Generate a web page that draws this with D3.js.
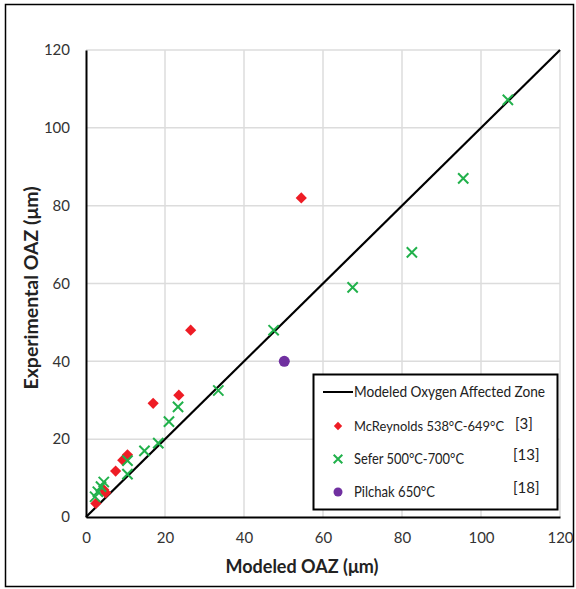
<!DOCTYPE html>
<html><head><meta charset="utf-8">
<script src="https://cdn.jsdelivr.net/npm/d3@7"></script>
<style>
html,body{margin:0;padding:0;background:#fff;}
text{font-family:Lato,"Open Sans",sans-serif;}
</style></head>
<body>
<svg id="chart" width="576" height="589"></svg>
<script>
const xTicks = [0, 20, 40, 60, 80, 100, 120];
const yTicks = [0, 20, 40, 60, 80, 100, 120];
const modelLine = [[0, 0], [120, 120]];
const mcReynolds = [[2.5,3.5],[4.5,7],[5,6.2],[7.5,11.8],[9.3,14.6],[10.5,16],[17,29.2],[23.5,31.3],[26.5,48],[54.5,82]];
const sefer = [[2.3,5.2],[3,6.5],[3.8,7.8],[4.5,9],[10.5,11],[10.5,14.5],[14.8,17],[18.3,19],[21,24.5],[23.3,28.3],[33.5,32.5],[47.5,48],[67.5,59],[82.5,68],[95.5,87],[106.8,107.2]];
const pilchak = [[50.2,40]];
const legendLabels = ["Modeled Oxygen Affected Zone","McReynolds 538°C-649°C","Sefer 500°C-700°C","Pilchak 650°C"];
const legendRefs = ["","[3]","[13]","[18]"];

const svg = d3.select("#chart");
const red = "#ee1c25", green = "#21b14b", purple = "#7030a0";

// outer frame
svg.append("rect").attr("x",5.5).attr("y",4.5).attr("width",568).attr("height",582)
  .attr("fill","none").attr("stroke","#000").attr("stroke-width",1.5);

const x = d3.scaleLinear().domain([0,120]).range([86,560]);
const y = d3.scaleLinear().domain([0,120]).range([517,50]);

// grid
svg.append("g").selectAll("line.v").data(xTicks.slice(1)).join("line")
  .attr("x1",d=>x(d)).attr("x2",d=>x(d)).attr("y1",y(0)).attr("y2",y(120))
  .attr("stroke","#dcdcdc").attr("stroke-width",1.5);
svg.append("g").selectAll("line.h").data(yTicks.slice(1)).join("line")
  .attr("x1",x(0)).attr("x2",x(120)).attr("y1",d=>y(d)).attr("y2",d=>y(d))
  .attr("stroke","#dcdcdc").attr("stroke-width",1.5);

// axes
const xAxis = svg.append("g").attr("transform",`translate(0,${y(0)})`)
  .call(d3.axisBottom(x).tickValues(xTicks).tickSize(0).tickPadding(15));
const yAxis = svg.append("g").attr("transform",`translate(${x(0)},0)`)
  .call(d3.axisLeft(y).tickValues(yTicks).tickSize(0).tickPadding(16));
[xAxis,yAxis].forEach(g=>{
  g.select(".domain").attr("stroke","#000").attr("stroke-width",2);
  g.selectAll("text").attr("font-size",15).attr("fill","#333").attr("font-family","Lato,'Open Sans',sans-serif");
});

// axis titles
svg.append("text").attr("x",302).attr("y",573).attr("text-anchor","middle")
  .attr("font-size",18).attr("font-weight","bold").attr("fill","#222").text("Modeled OAZ (μm)");
svg.append("text").attr("transform",`translate(38,288) rotate(-90)`).attr("text-anchor","middle")
  .attr("font-size",18).attr("font-weight","bold").attr("fill","#222")
  .attr("textLength",203).attr("lengthAdjust","spacingAndGlyphs").text("Experimental OAZ (μm)");

// model line
svg.append("path").datum(modelLine)
  .attr("d",d3.line().x(d=>x(d[0])).y(d=>y(d[1])))
  .attr("stroke","#000").attr("stroke-width",2.2).attr("fill","none");

// markers
const diamond = d3.symbol().type(d3.symbolDiamond2).size(80);
svg.append("g").selectAll("path").data(mcReynolds).join("path")
  .attr("d",diamond).attr("transform",d=>`translate(${x(d[0])},${y(d[1])})`)
  .attr("fill",red);
const cross = d3.symbol().type(d3.symbolX).size(70);
svg.append("g").selectAll("path").data(sefer).join("path")
  .attr("d",cross).attr("transform",d=>`translate(${x(d[0])},${y(d[1])})`)
  .attr("fill","none").attr("stroke",green).attr("stroke-width",2);
svg.append("g").selectAll("circle").data(pilchak).join("circle")
  .attr("cx",d=>x(d[0])).attr("cy",d=>y(d[1])).attr("r",5.5).attr("fill",purple);

// legend
const lg = svg.append("g");
lg.append("rect").attr("x",313.5).attr("y",374.5).attr("width",244).attr("height",135)
  .attr("fill","#fff").attr("stroke","#000").attr("stroke-width",2);
const rows = [392, 426, 459, 492];
const labelW = [191, 150, 110, 81];
const labelFs = [15, 13.5, 15, 15];
lg.append("line").attr("x1",323).attr("x2",353).attr("y1",rows[0]).attr("y2",rows[0])
  .attr("stroke","#000").attr("stroke-width",2);
lg.append("path").attr("d",d3.symbol().type(d3.symbolDiamond2).size(45))
  .attr("transform",`translate(338,${rows[1]})`).attr("fill",red);
lg.append("path").attr("d",d3.symbol().type(d3.symbolX).size(50))
  .attr("transform",`translate(338,${rows[2]})`).attr("fill","none").attr("stroke",green).attr("stroke-width",2);
lg.append("circle").attr("cx",338).attr("cy",rows[3]).attr("r",4.5).attr("fill",purple);
lg.selectAll("text.lab").data(legendLabels).join("text")
  .attr("x",354).attr("y",(d,i)=>rows[i]).attr("dy","0.35em")
  .attr("font-size",(d,i)=>labelFs[i]).attr("fill","#222")
  .attr("textLength",(d,i)=>labelW[i]).attr("lengthAdjust","spacingAndGlyphs").text(d=>d);
const refX = [0,515,513,513], refDy = [0,-2,-4,-4];
lg.selectAll("text.ref").data(legendRefs).join("text")
  .attr("x",(d,i)=>refX[i]).attr("y",(d,i)=>rows[i]+refDy[i]).attr("dy","0.35em")
  .attr("font-size",15).attr("fill","#222").text(d=>d);
</script>
</body></html>
